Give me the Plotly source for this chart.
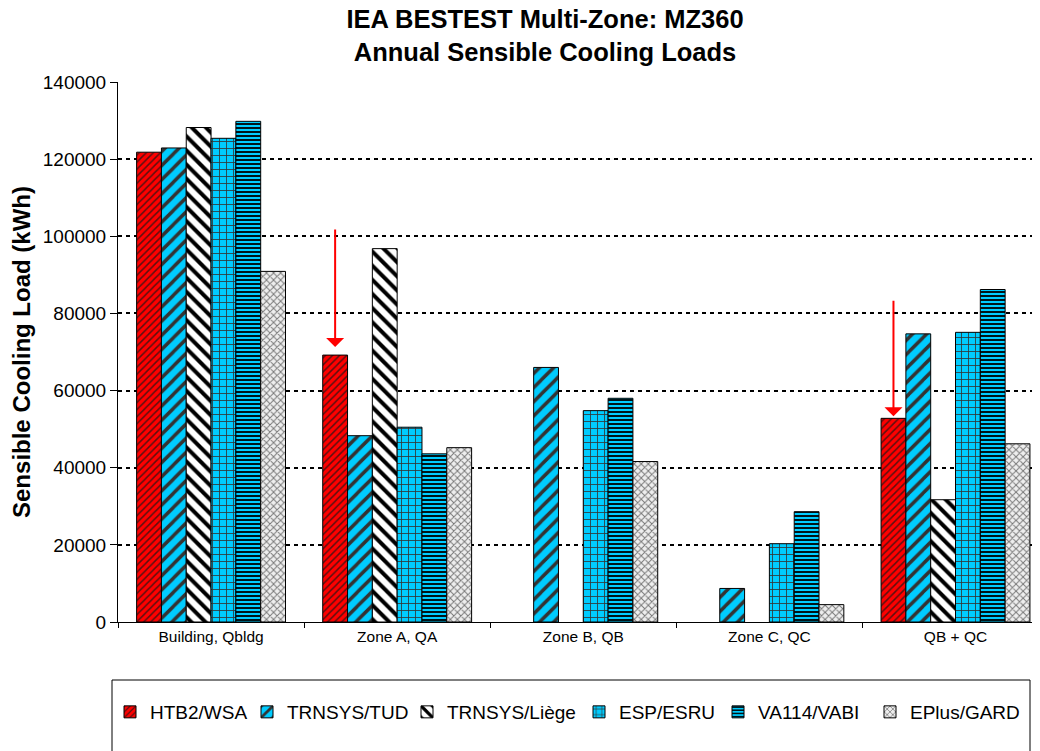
import plotly.graph_objects as go

# 分区 / 程序
categories = ["Building, Qbldg", "Zone A, QA", "Zone B, QB", "Zone C, QC", "QB + QC"]
programs = ["HTB2/WSA", "TRNSYS/TUD", "TRNSYS/Liège", "ESP/ESRU", "VA114/VABI", "EPlus/GARD"]

# 年显热冷负荷 (kWh)
htb2_wsa = [121800, 69200, None, None, 52800]
trnsys_tud = [122900, 48300, 66000, 8700, 74700]
trnsys_liege = [128200, 96800, None, None, 31700]
esp_esru = [125400, 50500, 54800, 20300, 75100]
va114_vabi = [129800, 43600, 58000, 28600, 86200]
eplus_gard = [90900, 45200, 41600, 4500, 46200]

y_ticks = [0, 20000, 40000, 60000, 80000, 100000, 120000, 140000]

series = [htb2_wsa, trnsys_tud, trnsys_liege, esp_esru, va114_vabi, eplus_gard]

# 填充样式：底色, 花纹, 花纹色, 间距, 实度
STYLES = [
    ("#FF0000", "/", "#5a1010", 5, 0.3),
    ("#00CCFF", "/", "#333333", 10, 0.35),
    ("#FFFFFF", "\\", "#000000", 10, 0.4),
    ("#00CCFF", "+", "#333333", 7, 0.22),
    ("#00CCFF", "-", "#000000", 4, 0.45),
    ("#EEEEEE", "x", "#777777", 5, 0.35),
]

# 页面 body 有 8px 边距，画布坐标 = 截图坐标 - 8
OFF = 8
W, H = 1040 - OFF, 751 - OFF
# 每个图例项色块中心的横坐标 (截图 px)
LEGEND_X = [132, 269, 429, 601, 740, 892]

FONT = "Arial, Liberation Sans, sans-serif"
PLOT_L, PLOT_T, PLOT_B = 118 - OFF, 82 - OFF, 622 - OFF
PLOT_W, PLOT_H = W - PLOT_L, PLOT_B - PLOT_T

fig = go.Figure()
legends = {}
for i, (name, vals, (bg, shape, fg, size, sol)) in enumerate(zip(programs, series, STYLES)):
    key = "legend" if i == 0 else f"legend{i + 1}"
    fig.add_trace(go.Bar(
        x=categories, y=vals, name=name, legend=key,
        marker=dict(color=bg, line=dict(color="#000000", width=1),
                    pattern=dict(shape=shape, bgcolor=bg, fgcolor=fg, size=size,
                                 solidity=sol, fillmode="replace")),
    ))
    legends[key] = dict(orientation="h", xref="container", yref="container",
                        x=(LEGEND_X[i] - OFF - 22) / W, xanchor="left",
                        y=(H - (712 - OFF)) / H, yanchor="middle",
                        font=dict(size=19), bgcolor="rgba(0,0,0,0)", borderwidth=0)

# 红色箭头指向 HTB2/WSA 柱顶（分组中第一根柱子）
first_bar = -1 / 3
for cat_idx, ay, standoff in [(1, -127, 8), (4, -119, 2)]:
    fig.add_annotation(x=cat_idx + first_bar, y=htb2_wsa[cat_idx], xref="x", yref="y",
                       text="", showarrow=True, arrowhead=1, arrowsize=1.5, arrowwidth=2,
                       arrowcolor="#FF0000", ax=0, ay=ay, standoff=standoff)

# 图例外框（底边在画面外）
fig.add_shape(type="rect", xref="paper", yref="paper",
              x0=(112 - OFF - PLOT_L) / PLOT_W, x1=(1030 - OFF - PLOT_L) / PLOT_W,
              y0=(PLOT_B - (680 - OFF)) / PLOT_H, y1=(PLOT_B - (770 - OFF)) / PLOT_H,
              line=dict(color="#000000", width=1), fillcolor="rgba(0,0,0,0)")

fig.update_layout(
    width=W, height=H,
    margin=dict(l=PLOT_L, r=0, t=PLOT_T, b=H - PLOT_B, autoexpand=False),
    paper_bgcolor="white", plot_bgcolor="white",
    barmode="group", bargap=0.2, bargroupgap=0,
    font=dict(family=FONT, color="#000000"),
    title=dict(text="<b>IEA BESTEST Multi-Zone: MZ360<br>Annual Sensible Cooling Loads</b>",
               x=(545 - OFF) / W, xanchor="center", xref="container",
               y=0.973, yanchor="top", font=dict(size=25.5, family=FONT)),
    xaxis=dict(range=[-0.5, 4.454], tickson="boundaries", ticks="outside", ticklen=5,
               tickcolor="#000000", showline=True, linecolor="#000000", linewidth=1,
               tickfont=dict(size=15.5), showgrid=False, fixedrange=True),
    yaxis=dict(range=[0, 140000], tickvals=y_ticks, tickformat="d", ticks="outside",
               ticklen=7, tickcolor="#000000", showline=True, linecolor="#000000",
               linewidth=1, showgrid=True, gridcolor="#000000", gridwidth=2,
               griddash="4px,4px", zeroline=False, tickfont=dict(size=19),
               title=dict(text="<b>Sensible Cooling Load (kWh)</b>", font=dict(size=24),
                          standoff=13)),
    showlegend=True,
    **legends,
)

fig.write_html("out.html")
